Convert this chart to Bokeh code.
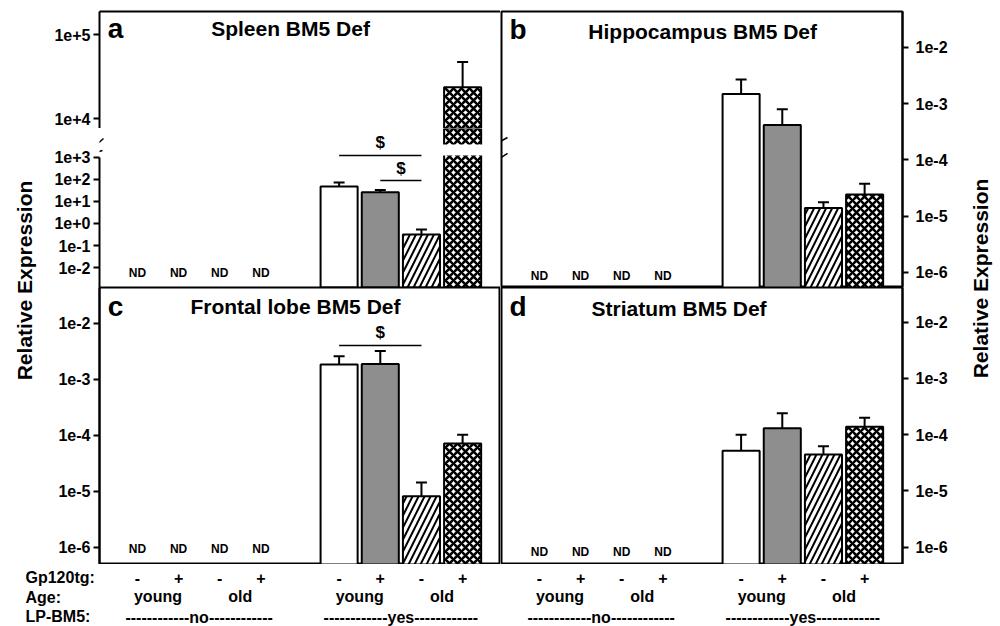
from math import pi
from bokeh.plotting import figure
from bokeh.models import (FactorRange, Range1d, Whisker, TeeHead, BoxAnnotation,
                          LinearAxis, FixedTicker, CustomJSTickFormatter,
                          ColumnDataSource, Arrow)
from bokeh.layouts import row, column
from bokeh.embed import file_html
from bokeh.resources import INLINE
from bokeh.core.properties import value
from bokeh.transform import dodge

# ---------------- data ----------------
lp_bm5 = ["------------no------------", "------------yes------------"]
age = ["young", "young", "old", "old"]
gp120tg = ["-", "+", "-", "+"]
row_titles = ["Gp120tg:", "Age:", "LP-BM5:"]
nd_text = "ND"

spleen_mean = [48, 26, 0.32, 2.35e4]
spleen_sem = [25, 7, 0.21, 2.35e4]
hippocampus_mean = [1.49e-3, 4.2e-4, 1.4e-5, 2.44e-5]
hippocampus_sem = [1.21e-3, 3.8e-4, 3.8e-6, 1.36e-5]
frontal_mean = [1.83e-3, 1.87e-3, 8.1e-6, 7.1e-5]
frontal_sem = [7.4e-4, 1.33e-3, 6.2e-6, 3.1e-5]
striatum_mean = [5.2e-5, 1.3e-4, 4.45e-5, 1.39e-4]
striatum_sem = [4.8e-5, 1.1e-4, 1.75e-5, 6.1e-5]

brain_ticks = [1e-6, 1e-5, 1e-4, 1e-3, 1e-2]
spleen_ticks_low = [1e-2, 1e-1, 1e0, 1e1, 1e2, 1e3]
spleen_ticks_high = [1e4, 1e5]

# significance ($): (first bar, last bar, line level, symbol level)
spleen_sig = [(0, 2, 1230, 4800), (1, 2, 90, 316)]
frontal_sig = [(0, 2, 4.0e-3, 6.9e-3)]

# ---------------- styling ----------------
FONT = "Liberation Sans"
GRAY = "#8e8e8e"
BAR_FILL = ["white", GRAY, "white", "white"]
BAR_HATCH = ["blank", "blank", "right_diagonal_line", "diagonal_cross"]
BAR_HATCH_W = [1, 1, 2, 2.6]
BAR_HATCH_S = [8, 8, 12, 8]

factors = [(g, a, s) for g in lp_bm5 for a, s in zip(age, gp120tg)]
no_f = factors[:4]
yes_f = factors[4:]


def make_xr():
    return FactorRange(factors=factors, group_padding=0.9, subgroup_padding=0.0,
                       range_padding=0.42, range_padding_units="absolute")


xr_l = make_xr()
xr_r = make_xr()

FMT = "const e = Math.round(Math.log10(tick)); return '1e' + (e >= 0 ? '+' : '') + e;"


def style_yaxis(ax, ticks, bounds=None, standoff=3):
    ax.ticker = FixedTicker(ticks=ticks)
    ax.formatter = CustomJSTickFormatter(code=FMT)
    ax.major_label_text_font = FONT
    ax.major_label_text_font_style = "bold"
    ax.major_label_text_font_size = "16px"
    ax.major_label_text_color = "black"
    ax.major_tick_out = 6
    ax.major_tick_in = 0
    ax.major_tick_line_width = 2
    ax.minor_tick_line_color = None
    ax.axis_line_width = 2
    ax.major_label_standoff = standoff
    if bounds is not None:
        ax.bounds = bounds


def border_axis(p, loc):
    ax = LinearAxis(ticker=FixedTicker(ticks=[]), axis_line_width=2, major_tick_out=0,
                    major_tick_in=0, minor_tick_out=0, minor_tick_in=0, major_label_standoff=0)
    p.add_layout(ax, loc)


def make_panel(xr, lo, hi, width, height, side, mt, mb, ml, mr, ticks, outline=True, bounds=None):
    p = figure(width=width, height=height, x_range=xr, y_range=Range1d(10 ** lo, 10 ** hi),
               y_axis_type="log", x_axis_location=None, y_axis_location=side,
               toolbar_location=None, output_backend="svg",
               min_border_top=mt, min_border_bottom=mb, min_border_left=ml, min_border_right=mr)
    p.outline_line_color = "black" if outline else None
    p.outline_line_width = 2
    p.grid.visible = False
    style_yaxis(p.yaxis[0], ticks, bounds, 3 if side == "left" else 7)
    return p


def add_bars(p, mean, sem, keep=None, bottom=None):
    idx = [i for i in range(4) if keep is None or keep(mean[i])]
    src = ColumnDataSource(dict(
        x=[yes_f[i] for i in idx], top=[mean[i] for i in idx],
        upper=[mean[i] + sem[i] for i in idx], fill=[BAR_FILL[i] for i in idx],
        hatch=[BAR_HATCH[i] for i in idx], hw=[BAR_HATCH_W[i] for i in idx],
        hs=[BAR_HATCH_S[i] for i in idx]))
    p.vbar(x="x", top="top", bottom=p.y_range.start if bottom is None else bottom, width=0.9,
           source=src, fill_color="fill", line_color="black", line_width=2,
           hatch_pattern="hatch", hatch_color="black", hatch_weight="hw", hatch_scale="hs")
    p.add_layout(Whisker(source=src, base="x", lower="top", upper="upper", line_width=2,
                         upper_head=TeeHead(size=11, line_width=2), lower_head=None))


def add_nd(p, level):
    p.text(x=no_f, y=[level] * 4, text=[nd_text] * 4, text_font=value(FONT),
           text_font_style="bold", text_font_size="12px", text_align="center",
           text_baseline="middle", text_color="black")


def add_text(p, xr, factor, offset, y, txt, size, align="center"):
    src = ColumnDataSource(dict(x=[factor], y=[y], t=[txt]))
    p.text(x=dodge("x", offset, range=xr), y="y", text="t", source=src, text_font=value(FONT),
           text_font_style="bold", text_font_size=size, text_align=align,
           text_baseline="middle", text_color="black", level="overlay")


def add_sig(p, xr, sig):
    for i0, i1, lvl, slvl in sig:
        p.segment(x0=[yes_f[i0]], y0=[lvl], x1=[yes_f[i1]], y1=[lvl], line_color="black",
                  line_width=1.5, level="overlay")
        src = ColumnDataSource(dict(x=[yes_f[i0]], y=[slvl], t=["$"]))
        p.text(x=dodge("x", (i1 - i0) / 2, range=xr), y="y", text="t", source=src,
               text_font=value(FONT), text_font_style="bold", text_font_size="17px",
               text_align="center", text_baseline="middle", text_color="black", level="overlay")


def add_break(p, marks):
    for (xs, ys, xe, ye) in marks:
        p.add_layout(Arrow(x_start=xs, y_start=10 ** ys, x_end=xe, y_end=10 ** ye, end=None,
                           line_width=1.5, line_color="black", level="overlay"))


# ---------------- panel a (broken axis) ----------------
# the split between the two segments is placed on a multiple of the hatch tile so the
# cross-hatch of the tall bar stays continuous across both sub-plots
UP_LO, UP_HI = 3.881, 5.274
LO_LO, LO_HI = -2.909, 4.318
pa_up = make_panel(xr_l, UP_LO, UP_HI, 455, 128, "left", 11, 0, 54, 0, spleen_ticks_high,
                   outline=False, bounds=(10 ** UP_LO, 10 ** UP_HI))
border_axis(pa_up, "above")
add_bars(pa_up, spleen_mean, spleen_sem, keep=lambda v: v > 10 ** UP_LO,
         bottom=10 ** (UP_LO - 0.1))
add_text(pa_up, xr_l, no_f[0], -0.53, 10 ** 5.072, "a", "28px")
add_text(pa_up, xr_l, no_f[3], 0.72, 10 ** 5.072, "Spleen BM5 Def", "21px")

pa_lo = make_panel(xr_l, LO_LO, LO_HI, 455, 159, "left", 0, 0, 54, 0, spleen_ticks_low,
                   outline=False, bounds=(10 ** LO_LO, 1e3))
border_axis(pa_lo, "below")
add_bars(pa_lo, spleen_mean, spleen_sem)
pa_lo.add_layout(BoxAnnotation(bottom=10 ** 3.09, top=10 ** 3.591, fill_color="white",
                               fill_alpha=1, line_color=None))
add_nd(pa_lo, 10 ** -2.259)
add_sig(pa_lo, xr_l, spleen_sig)
add_break(pa_lo, [(-0.566, 3.455, -0.323, 3.864), (-0.663, 3.136, -0.347, 3.318)])

# ---------------- panel c ----------------
pc = make_panel(xr_l, -6.309, -1.362, 455, 277, "left", 0, 0, 54, 0, brain_ticks)
add_bars(pc, frontal_mean, frontal_sem)
add_nd(pc, 10 ** -6.04)
add_sig(pc, xr_l, frontal_sig)
add_text(pc, xr_l, no_f[0], -0.53, 10 ** -1.701, "c", "28px")
add_text(pc, xr_l, no_f[3], 0.84, 10 ** -1.701, "Frontal lobe BM5 Def", "21px")

# ---------------- panel b ----------------
pb = make_panel(xr_r, -6.267, -1.36, 460, 287, "right", 11, 0, 1, 58, brain_ticks)
add_bars(pb, hippocampus_mean, hippocampus_sem)
add_nd(pb, 10 ** -6.066)
add_text(pb, xr_r, no_f[0], -0.515, 10 ** -1.68, "b", "28px")
add_text(pb, xr_r, no_f[3], 0.967, 10 ** -1.707, "Hippocampus BM5 Def", "21px")
add_break(pb, [(-0.614, -3.742, -0.274, -3.600), (-0.614, -4.044, -0.274, -3.884)])

# ---------------- panel d ----------------
pd_ = make_panel(xr_r, -6.308, -1.383, 460, 277, "right", 0, 0, 1, 58, brain_ticks)
add_bars(pd_, striatum_mean, striatum_sem)
add_nd(pd_, 10 ** -6.09)
add_text(pd_, xr_r, no_f[0], -0.515, 10 ** -1.715, "d", "28px")
add_text(pd_, xr_r, no_f[3], 0.393, 10 ** -1.756, "Striatum BM5 Def", "21px")


# ---------------- side labels ----------------
def plain_fig(w, h):
    f = figure(width=w, height=h, x_range=Range1d(0, w), y_range=Range1d(h, 0),
               x_axis_location=None, y_axis_location=None, toolbar_location=None,
               output_backend="svg", min_border=0)
    f.outline_line_color = None
    f.xgrid.visible = False
    f.ygrid.visible = False
    return f


left_fig = plain_fig(45, 564)
left_fig.text(x=[24], y=[280], text=["Relative Expression"], angle=pi / 2,
              text_font=value(FONT), text_font_style="bold", text_font_size="21px",
              text_align="center", text_baseline="middle", text_color="black")
right_fig = plain_fig(40, 564)
right_fig.text(x=[20], y=[278], text=["Relative Expression"], angle=pi / 2,
               text_font=value(FONT), text_font_style="bold", text_font_size="21px",
               text_align="center", text_baseline="middle", text_color="black")

rowlab = plain_fig(99, 62)
rowlab.text(x=[25] * 3, y=[13, 33, 52], text=row_titles, text_font=value(FONT),
            text_font_style="bold", text_font_size="16px", text_align="left",
            text_baseline="middle", text_color="black")


def bottom_axis_fig(xr, w, ml, mr):
    f = figure(width=w, height=62, x_range=xr, y_range=Range1d(0, 1),
               x_axis_location="below", y_axis_location=None, toolbar_location=None,
               output_backend="svg", min_border_top=0, min_border_bottom=58,
               min_border_left=ml, min_border_right=mr)
    f.outline_line_color = None
    f.grid.visible = False
    ax = f.xaxis[0]
    ax.axis_line_color = None
    ax.major_tick_line_color = None
    ax.minor_tick_line_color = None
    ax.separator_line_color = None
    ax.major_label_standoff = 1
    for pre in ("major_label_text", "group_text", "subgroup_text"):
        setattr(ax, pre + "_font", FONT)
        setattr(ax, pre + "_font_style", "bold")
        setattr(ax, pre + "_font_size", "16px")
        setattr(ax, pre + "_color", "black")
    return f


bot_c = bottom_axis_fig(xr_l, 401, 0, 0)
bot_d = bottom_axis_fig(xr_r, 500, 1, 98)

layout = column(
    row(left_fig, column(pa_up, pa_lo, pc), column(pb, pd_), right_fig),
    row(column(rowlab), column(bot_c), column(bot_d)),
)

open("out.html", "w").write(file_html(layout, INLINE))
